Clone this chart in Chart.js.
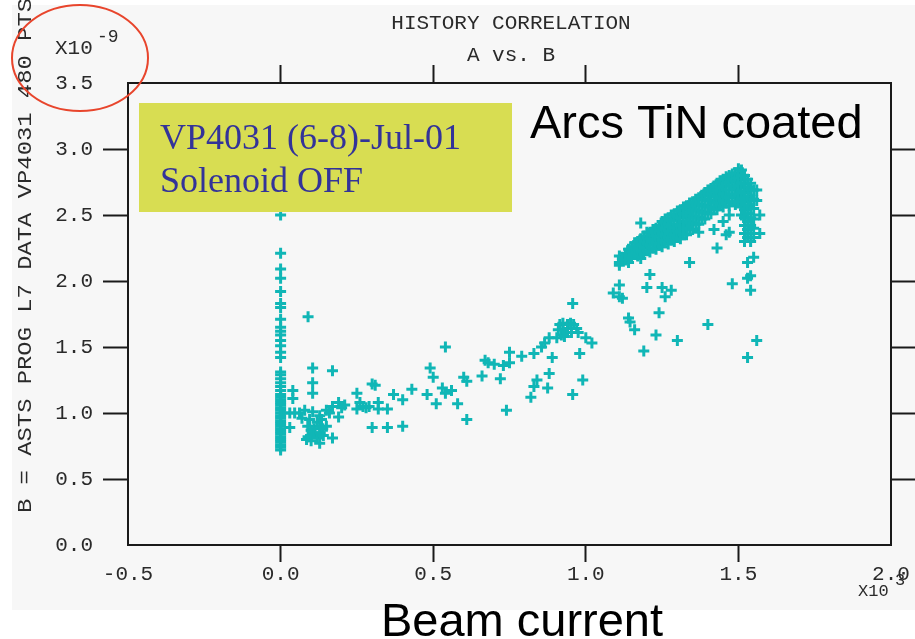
<!DOCTYPE html>
<html>
<head>
<meta charset="utf-8">
<script src="https://cdn.jsdelivr.net/npm/chart.js@4.4.1/dist/chart.umd.min.js"></script>
<style>
  html, body { margin: 0; padding: 0; background: #fff; }
  #wrap { width: 915px; height: 639px; }
</style>
</head>
<body>
<div id="wrap"><canvas id="chart" width="915" height="639"></canvas></div>
<script>
// A = beam current (x10^3), B = VP4031 pressure (x10^-9)
const xTickValues = [-0.5, 0.0, 0.5, 1.0, 1.5, 2.0];
const xTickLabels = ['-0.5', '0.0', '0.5', '1.0', '1.5', '2.0'];
const yTickValues = [0.0, 0.5, 1.0, 1.5, 2.0, 2.5, 3.0, 3.5];
const yTickLabels = ['0.0', '0.5', '1.0', '1.5', '2.0', '2.5', '3.0', '3.5'];

const spikeAtZero = [
  [0, 0.72], [0, 0.74], [0, 0.76], [0, 0.78], [0, 0.80], [0, 0.82], [0, 0.84], [0, 0.86],
  [0, 0.88], [0, 0.90], [0, 0.92], [0, 0.94], [0, 0.96], [0, 0.98], [0, 1.00], [0, 1.02],
  [0, 1.04], [0, 1.06], [0, 1.08], [0, 1.10], [0, 1.12], [0, 1.14], [0, 1.17], [0, 1.20],
  [0, 1.23], [0, 1.26], [0, 1.29], [0, 1.31], [0, 1.42], [0, 1.46], [0, 1.51], [0, 1.55],
  [0, 1.59], [0, 1.62], [0, 1.65], [0, 1.71], [0, 1.80], [0, 1.83], [0, 1.92], [0, 2.02],
  [0, 2.09], [0, 2.21], [0, 2.50]
];

const lowCurrent = [
  [0.01, 1.00], [0.03, 0.89], [0.03, 1.00], [0.04, 1.11], [0.04, 1.17], [0.046, 1.00],
  [0.062, 1.00], [0.07, 0.96], [0.079, 1.02], [0.085, 0.80], [0.089, 0.90], [0.09, 0.82],
  [0.09, 1.73], [0.095, 0.95], [0.10, 0.79], [0.10, 0.83], [0.10, 0.87], [0.105, 1.01],
  [0.105, 1.15], [0.105, 1.23], [0.105, 1.34], [0.11, 0.85], [0.11, 0.88], [0.12, 0.81],
  [0.12, 0.93], [0.128, 0.77], [0.128, 0.90], [0.128, 0.98], [0.13, 0.85], [0.134, 0.95],
  [0.138, 0.88], [0.14, 0.83], [0.15, 0.90], [0.15, 1.02], [0.16, 1.00], [0.17, 0.81],
  [0.17, 1.05], [0.17, 1.32], [0.19, 0.97], [0.19, 1.08], [0.20, 1.04], [0.21, 1.06]
];

const midCurrent = [
  [0.25, 1.03], [0.25, 1.15], [0.26, 1.08], [0.27, 1.05], [0.28, 1.04], [0.29, 1.05],
  [0.30, 0.89], [0.30, 1.22], [0.31, 1.21], [0.32, 1.03], [0.32, 1.08], [0.35, 0.89],
  [0.35, 1.03], [0.37, 1.14], [0.40, 0.90], [0.40, 1.10], [0.43, 1.18], [0.48, 1.14],
  [0.49, 1.34], [0.50, 1.27], [0.51, 1.07], [0.53, 1.19], [0.54, 1.15], [0.54, 1.50],
  [0.56, 1.17], [0.58, 1.07], [0.60, 1.27], [0.61, 0.95], [0.61, 1.24], [0.66, 1.28],
  [0.67, 1.40], [0.68, 1.38], [0.70, 1.37], [0.72, 1.26], [0.73, 1.36], [0.74, 1.02],
  [0.75, 1.38], [0.75, 1.46], [0.79, 1.43], [0.82, 1.12], [0.83, 1.20], [0.83, 1.45],
  [0.84, 1.25], [0.855, 1.50], [0.865, 1.53], [0.875, 1.19], [0.88, 1.30], [0.88, 1.57],
  [0.89, 1.42], [0.905, 1.57], [0.91, 1.63], [0.915, 1.67], [0.92, 1.59], [0.925, 1.63],
  [0.925, 1.68], [0.93, 1.58], [0.94, 1.61], [0.94, 1.64], [0.94, 1.67], [0.95, 1.68],
  [0.953, 1.61], [0.957, 1.14], [0.957, 1.83], [0.96, 1.67], [0.97, 1.64], [0.975, 1.61],
  [0.98, 1.45], [0.99, 1.25], [1.00, 1.57], [1.02, 1.53]
];

const highBand = [
  [1.11, 2.14], [1.11, 2.19],
  [1.12, 2.17],
  [1.13, 2.16], [1.13, 2.21],
  [1.14, 2.19], [1.14, 2.24],
  [1.15, 2.17], [1.15, 2.22], [1.15, 2.26],
  [1.16, 2.20], [1.16, 2.25], [1.16, 2.29],
  [1.17, 2.19], [1.17, 2.24], [1.17, 2.30],
  [1.18, 2.22], [1.18, 2.27], [1.18, 2.32],
  [1.19, 2.20], [1.19, 2.25], [1.19, 2.30], [1.19, 2.34],
  [1.20, 2.23], [1.20, 2.28], [1.20, 2.33], [1.20, 2.37],
  [1.21, 2.22], [1.21, 2.27], [1.21, 2.32], [1.21, 2.37],
  [1.22, 2.25], [1.22, 2.30], [1.22, 2.35], [1.22, 2.39],
  [1.23, 2.24], [1.23, 2.29], [1.23, 2.34], [1.23, 2.40],
  [1.24, 2.27], [1.24, 2.32], [1.24, 2.37], [1.24, 2.42],
  [1.25, 2.26], [1.25, 2.31], [1.25, 2.36], [1.25, 2.41], [1.25, 2.45],
  [1.26, 2.29], [1.26, 2.34], [1.26, 2.39], [1.26, 2.44], [1.26, 2.47],
  [1.27, 2.28], [1.27, 2.33], [1.27, 2.38], [1.27, 2.43], [1.27, 2.48],
  [1.28, 2.31], [1.28, 2.36], [1.28, 2.41], [1.28, 2.46], [1.28, 2.50],
  [1.29, 2.30], [1.29, 2.35], [1.29, 2.40], [1.29, 2.46], [1.29, 2.51],
  [1.30, 2.33], [1.30, 2.38], [1.30, 2.43], [1.30, 2.49], [1.30, 2.53],
  [1.31, 2.32], [1.31, 2.37], [1.31, 2.42], [1.31, 2.48], [1.31, 2.54],
  [1.32, 2.35], [1.32, 2.40], [1.32, 2.45], [1.32, 2.51], [1.32, 2.56],
  [1.33, 2.35], [1.33, 2.40], [1.33, 2.45], [1.33, 2.51], [1.33, 2.57],
  [1.34, 2.39], [1.34, 2.44], [1.34, 2.49], [1.34, 2.55], [1.34, 2.59],
  [1.35, 2.39], [1.35, 2.44], [1.35, 2.49], [1.35, 2.54], [1.35, 2.60],
  [1.36, 2.43], [1.36, 2.48], [1.36, 2.53], [1.36, 2.57], [1.36, 2.62],
  [1.37, 2.43], [1.37, 2.48], [1.37, 2.53], [1.37, 2.58], [1.37, 2.63],
  [1.38, 2.47], [1.38, 2.52], [1.38, 2.57], [1.38, 2.62], [1.38, 2.65],
  [1.39, 2.47], [1.39, 2.52], [1.39, 2.57], [1.39, 2.62], [1.39, 2.67],
  [1.40, 2.51], [1.40, 2.56], [1.40, 2.61], [1.40, 2.65], [1.40, 2.69],
  [1.41, 2.51], [1.41, 2.56], [1.41, 2.61], [1.41, 2.66], [1.41, 2.70],
  [1.42, 2.54], [1.42, 2.59], [1.42, 2.64], [1.42, 2.68], [1.42, 2.72],
  [1.43, 2.54], [1.43, 2.59], [1.43, 2.64], [1.43, 2.69], [1.43, 2.74],
  [1.44, 2.57], [1.44, 2.62], [1.44, 2.67], [1.44, 2.71], [1.44, 2.76],
  [1.45, 2.56], [1.45, 2.61], [1.45, 2.66], [1.45, 2.72], [1.45, 2.77],
  [1.46, 2.59], [1.46, 2.64], [1.46, 2.69], [1.46, 2.74], [1.46, 2.79],
  [1.47, 2.57], [1.47, 2.63], [1.47, 2.69], [1.47, 2.75], [1.47, 2.80],
  [1.48, 2.60], [1.48, 2.66], [1.48, 2.72], [1.48, 2.77], [1.48, 2.81],
  [1.49, 2.58], [1.49, 2.64], [1.49, 2.70], [1.49, 2.76], [1.49, 2.82],
  [1.50, 2.60], [1.50, 2.66], [1.50, 2.72], [1.50, 2.78], [1.50, 2.85],
  [1.51, 2.50], [1.51, 2.56], [1.51, 2.62], [1.51, 2.68], [1.51, 2.74], [1.51, 2.80], [1.51, 2.84],
  [1.52, 2.30], [1.52, 2.36], [1.52, 2.42], [1.52, 2.48], [1.52, 2.54], [1.52, 2.60],
  [1.52, 2.67], [1.52, 2.74], [1.52, 2.80],
  [1.53, 2.33], [1.53, 2.39], [1.53, 2.45], [1.53, 2.51], [1.53, 2.57], [1.53, 2.64],
  [1.53, 2.71], [1.53, 2.77],
  [1.54, 2.30], [1.54, 2.36], [1.54, 2.42], [1.54, 2.48], [1.54, 2.55], [1.54, 2.62],
  [1.54, 2.69], [1.54, 2.74],
  [1.55, 2.33], [1.55, 2.40], [1.55, 2.47], [1.55, 2.55], [1.55, 2.62], [1.55, 2.69]
];

const highScatter = [
  [1.09, 1.91], [1.11, 1.88], [1.11, 1.97], [1.12, 1.87], [1.11, 2.12], [1.12, 2.16],
  [1.14, 2.14], [1.14, 1.72], [1.145, 1.69], [1.16, 1.63], [1.18, 2.17], [1.18, 2.44],
  [1.19, 1.47], [1.20, 1.95], [1.21, 2.05], [1.23, 1.59], [1.24, 1.76], [1.25, 1.95],
  [1.26, 1.88], [1.28, 1.93], [1.30, 1.55], [1.34, 2.14], [1.37, 2.37], [1.40, 1.67],
  [1.42, 2.39], [1.43, 2.25], [1.45, 2.45], [1.46, 2.35], [1.47, 2.37], [1.47, 2.50],
  [1.48, 1.98], [1.53, 1.42], [1.53, 2.02], [1.53, 2.14], [1.54, 1.93], [1.54, 2.04],
  [1.55, 2.18], [1.56, 1.55], [1.56, 2.61], [1.56, 2.69], [1.57, 2.36], [1.57, 2.50]
];

const groups = [spikeAtZero, lowCurrent, midCurrent, highBand, highScatter];

const mono = '"Liberation Mono", "DejaVu Sans Mono", monospace';
const ink = '#1a1a1a';
const cyan = '#10b6b6';

const hideEnds = (n) => (ctx) => (ctx.index === 0 || ctx.index === n - 1) ? 'rgba(0,0,0,0)' : ink;

function fixedTicks(values) {
  return (scale) => { scale.ticks = values.map((v) => ({ value: v })); };
}

const decor = {
  id: 'decor',
  beforeDraw(chart) {
    const c = chart.ctx;
    c.save();
    c.fillStyle = '#ffffff';
    c.fillRect(0, 0, chart.width, chart.height);
    c.fillStyle = '#f7f7f7';
    c.fillRect(12, 5, 903, 605);
    c.restore();
  },
  afterDatasetsDraw(chart) {
    const c = chart.ctx;
    c.save();

    // annotation box
    c.fillStyle = '#d8dd52';
    c.fillRect(139, 103, 373, 109);
    c.fillStyle = '#333399';
    c.font = '36px "Liberation Serif", "Times New Roman", serif';
    c.textAlign = 'left';
    c.textBaseline = 'alphabetic';
    c.fillText('VP4031 (6-8)-Jul-01', 160, 149);
    c.fillText('Solenoid OFF', 160, 192);

    c.fillStyle = '#000';
    c.font = '47px "Liberation Sans", Arial, sans-serif';
    c.fillText('Arcs TiN coated', 530, 138);

    c.textAlign = 'center';
    c.fillText('Beam current', 522, 636);

    // plot titles
    c.fillStyle = '#2a2a2a';
    c.font = '21px ' + mono;
    c.textBaseline = 'middle';
    c.fillText('HISTORY CORRELATION', 511, 23);
    c.fillText('A vs. B', 511, 55);

    // exponents
    c.textAlign = 'left';
    c.fillText('X10', 55, 48);
    c.font = '18px ' + mono;
    c.fillText('-9', 97, 37);
    c.font = '17px ' + mono;
    c.fillText('X10', 858, 591);
    c.fillText('3', 895, 580);

    // y axis title
    const title = 'B = ASTS PROG L7 DATA VP4031 480 PTS';
    c.font = '21px ' + mono;
    c.translate(25, 513);
    c.rotate(-Math.PI / 2);
    const w = c.measureText(title).width;
    c.scale(515 / w, 1);
    c.fillText(title, 0, 0);
    c.setTransform(1, 0, 0, 1, 0, 0);

    // red ellipse
    c.strokeStyle = '#e8452c';
    c.lineWidth = 2;
    c.beginPath();
    c.ellipse(80, 58, 68, 53, 0, 0, Math.PI * 2);
    c.stroke();

    c.restore();
  }
};

const axisBase = {
  type: 'linear',
  border: { display: true, color: ink, width: 2 }
};

new Chart(document.getElementById('chart'), {
  type: 'scatter',
  data: {
    datasets: groups.map((g) => ({
      data: g.map(([x, y]) => ({ x, y })),
      pointStyle: 'cross',
      pointRadius: 5.5,
      pointHoverRadius: 5.5,
      pointBorderWidth: 3,
      borderColor: cyan,
      backgroundColor: cyan
    }))
  },
  options: {
    responsive: false,
    animation: false,
    events: [],
    layout: { padding: 0 },
    plugins: { legend: { display: false }, tooltip: { enabled: false } },
    scales: {
      x: {
        ...axisBase,
        position: 'bottom',
        min: -0.5, max: 2.0,
        afterBuildTicks: fixedTicks(xTickValues),
        afterFit: (s) => { s.height = 94; },
        grid: { drawOnChartArea: false, tickLength: 17, tickWidth: 2, tickColor: hideEnds(xTickValues.length) },
        ticks: {
          padding: 0,
          color: '#2a2a2a',
          font: { family: mono, size: 21 },
          maxRotation: 0,
          autoSkip: false,
          callback: (v, i) => xTickLabels[i]
        }
      },
      x2: {
        ...axisBase,
        position: 'top',
        min: -0.5, max: 2.0,
        afterBuildTicks: fixedTicks(xTickValues),
        afterFit: (s) => { s.height = 83; },
        grid: { drawOnChartArea: false, tickLength: 18, tickWidth: 2, tickColor: hideEnds(xTickValues.length) },
        ticks: { display: false }
      },
      y: {
        ...axisBase,
        position: 'left',
        min: 0, max: 3.5,
        afterBuildTicks: fixedTicks(yTickValues),
        afterFit: (s) => { s.width = 128; },
        grid: { drawOnChartArea: false, tickLength: 25, tickWidth: 2, tickColor: hideEnds(yTickValues.length) },
        ticks: {
          padding: 10,
          color: '#2a2a2a',
          font: { family: mono, size: 21 },
          autoSkip: false,
          callback: (v, i) => yTickLabels[i]
        }
      },
      y2: {
        ...axisBase,
        position: 'right',
        min: 0, max: 3.5,
        afterBuildTicks: fixedTicks(yTickValues),
        afterFit: (s) => { s.width = 24; },
        grid: { drawOnChartArea: false, tickLength: 24, tickWidth: 2, tickColor: hideEnds(yTickValues.length) },
        ticks: { display: false }
      }
    }
  },
  plugins: [decor]
});
</script>
</body>
</html>
